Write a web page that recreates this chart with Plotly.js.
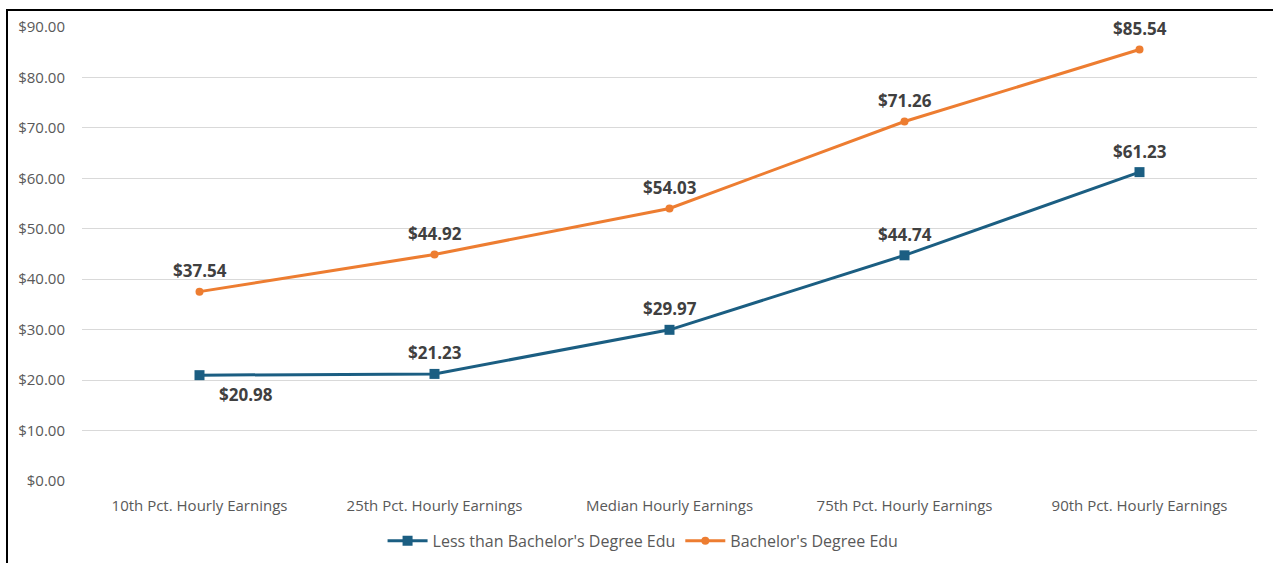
<!DOCTYPE html>
<html>
<head>
<meta charset="utf-8">
<script src="https://cdn.plot.ly/plotly-3.0.1.min.js"></script>
<style>
  html, body { margin: 0; padding: 0; background: #fff; }
  #wrap { position: relative; width: 1273px; height: 563px; }
  #chart { position: absolute; left: 0; top: 0; width: 1273px; height: 563px; }
  #frame { position: absolute; left: 6px; top: 9px; width: 1267px; height: 554px;
           border-left: 2px solid #000; border-top: 2px solid #000; box-sizing: border-box; pointer-events: none; }
</style>
</head>
<body>
<div id="wrap">
  <div id="chart"></div>
  <div id="frame"></div>
</div>
<script>
const categories = [
  "10th Pct. Hourly Earnings",
  "25th Pct. Hourly Earnings",
  "Median Hourly Earnings",
  "75th Pct. Hourly Earnings",
  "90th Pct. Hourly Earnings"
];
const lessThanBachelors = [20.98, 21.23, 29.97, 44.74, 61.23];
const bachelors = [37.54, 44.92, 54.03, 71.26, 85.54];
const seriesNames = ["Less than Bachelor's Degree Edu", "Bachelor's Degree Edu"];
const yTickVals = [0, 10, 20, 30, 40, 50, 60, 70, 80, 90];

const fmt = v => "$" + v.toFixed(2);
const labelFont = { family: "Open Sans, sans-serif", size: 17, color: "#404040", weight: "bold" };

const traces = [
  {
    x: categories, y: lessThanBachelors, name: seriesNames[0],
    type: "scatter", mode: "lines+markers",
    line: { color: "#1B5E82", width: 3 },
    marker: { color: "#1B5E82", size: 10, symbol: "square" },
    hoverinfo: "skip"
  },
  {
    x: categories, y: bachelors, name: seriesNames[1],
    type: "scatter", mode: "lines+markers",
    line: { color: "#ED7D31", width: 3 },
    marker: { color: "#ED7D31", size: 8, symbol: "circle" },
    hoverinfo: "skip"
  }
];

const annotations = [];
lessThanBachelors.forEach((v, i) => {
  const below = i === 0;
  annotations.push({
    x: categories[i], y: v, xref: "x", yref: "y",
    text: fmt(v), showarrow: false, font: labelFont,
    xshift: below ? 46 : 0, yshift: below ? -19 : 21
  });
});
bachelors.forEach((v, i) => {
  annotations.push({
    x: categories[i], y: v, xref: "x", yref: "y",
    text: fmt(v), showarrow: false, font: labelFont,
    xshift: 0, yshift: 21
  });
});

const layout = {
  width: 1273, height: 563,
  margin: { l: 82, r: 16, t: 27, b: 82, autoexpand: false },
  paper_bgcolor: "#fff", plot_bgcolor: "#fff",
  font: { family: "Open Sans, sans-serif", size: 15, color: "#595959" },
  showlegend: true,
  legend: {
    orientation: "h", x: 0.4775, xanchor: "center", y: -0.132, yanchor: "middle",
    font: { family: "Open Sans, sans-serif", size: 16, color: "#595959" },
    itemwidth: 40, traceorder: "normal", tracegroupgap: 0
  },
  annotations: annotations,
  xaxis: {
    type: "category", range: [-0.5, 4.5], automargin: false,
    showgrid: false, zeroline: false, showline: false,
    ticks: "outside", ticklen: 11, tickcolor: "rgba(0,0,0,0)",
    tickfont: { size: 15, color: "#595959" }
  },
  yaxis: {
    range: [0, 90], tickvals: yTickVals, automargin: false,
    ticktext: yTickVals.map(fmt),
    showgrid: true, gridcolor: "#D9D9D9", gridwidth: 1,
    zeroline: false, showline: false,
    ticks: "outside", ticklen: 13, tickcolor: "rgba(0,0,0,0)",
    tickfont: { size: 15, color: "#595959" }
  }
};

Plotly.newPlot("chart", traces, layout, { displayModeBar: false, staticPlot: true });
</script>
</body>
</html>
